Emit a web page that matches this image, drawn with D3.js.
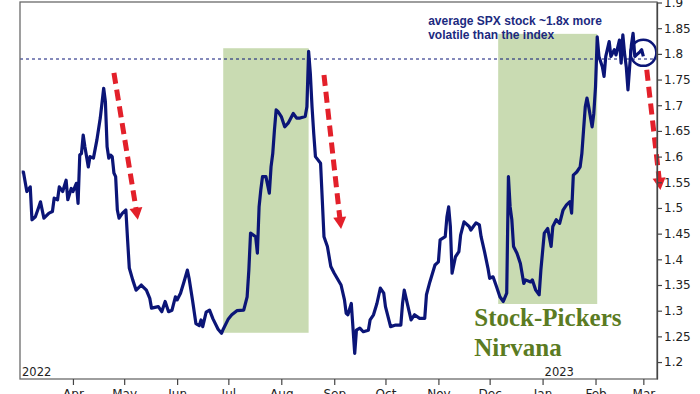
<!DOCTYPE html>
<html>
<head>
<meta charset="utf-8">
<script src="https://cdn.jsdelivr.net/npm/d3@7"></script>
<style>
  body { margin: 0; background: #fff; }
  svg { display: block; }
</style>
</head>
<body>
<div id="chart"></div>
<script>
// Data
const dates = [
  '2022-03-02','2022-03-03','2022-03-05','2022-03-07','2022-03-08','2022-03-10','2022-03-12','2022-03-13',
  '2022-03-15','2022-03-18','2022-03-20','2022-03-21','2022-03-23','2022-03-24','2022-03-26','2022-03-28',
  '2022-03-29','2022-03-31','2022-04-01','2022-04-03','2022-04-04','2022-04-05','2022-04-06','2022-04-07',
  '2022-04-08','2022-04-10','2022-04-11','2022-04-13','2022-04-15','2022-04-17','2022-04-19','2022-04-20',
  '2022-04-21','2022-04-22','2022-04-23','2022-04-24','2022-04-25','2022-04-26','2022-04-27','2022-04-28',
  '2022-04-30','2022-05-02','2022-05-03','2022-05-04','2022-05-06','2022-05-08','2022-05-11','2022-05-14',
  '2022-05-16','2022-05-17','2022-05-21','2022-05-23','2022-05-25','2022-05-27','2022-05-29','2022-05-31',
  '2022-06-01','2022-06-03','2022-06-05','2022-06-07','2022-06-08','2022-06-10','2022-06-12','2022-06-14',
  '2022-06-15','2022-06-16','2022-06-18','2022-06-20','2022-06-22','2022-06-25','2022-06-27','2022-06-28',
  '2022-07-01','2022-07-03','2022-07-06','2022-07-10','2022-07-12','2022-07-13','2022-07-14','2022-07-17',
  '2022-07-18','2022-07-19','2022-07-20','2022-07-21','2022-07-23','2022-07-25','2022-07-26','2022-07-27',
  '2022-07-28','2022-07-29','2022-07-30','2022-08-01','2022-08-03','2022-08-05','2022-08-08','2022-08-10',
  '2022-08-12','2022-08-15','2022-08-16','2022-08-17','2022-08-18','2022-08-19','2022-08-20','2022-08-21',
  '2022-08-24','2022-08-25','2022-08-26','2022-08-28','2022-08-30','2022-09-01','2022-09-05','2022-09-07',
  '2022-09-08','2022-09-09','2022-09-11','2022-09-13','2022-09-14','2022-09-16','2022-09-18','2022-09-21',
  '2022-09-22','2022-09-24','2022-09-26','2022-09-28','2022-09-30','2022-10-01','2022-10-04','2022-10-07',
  '2022-10-10','2022-10-11','2022-10-12','2022-10-14','2022-10-16','2022-10-18','2022-10-21','2022-10-24',
  '2022-10-25','2022-10-27','2022-10-30','2022-11-01','2022-11-02','2022-11-05','2022-11-06','2022-11-07',
  '2022-11-08','2022-11-09','2022-11-11','2022-11-13','2022-11-14','2022-11-16','2022-11-19','2022-11-20',
  '2022-11-23','2022-11-25','2022-11-26','2022-11-28','2022-11-30','2022-12-01','2022-12-03','2022-12-05',
  '2022-12-07','2022-12-09','2022-12-11','2022-12-12','2022-12-13','2022-12-14','2022-12-15','2022-12-17',
  '2022-12-19','2022-12-21','2022-12-22','2022-12-25','2022-12-26','2022-12-28','2022-12-30','2022-12-31',
  '2023-01-02','2023-01-04','2023-01-06','2023-01-07','2023-01-09','2023-01-11','2023-01-13','2023-01-15',
  '2023-01-17','2023-01-18','2023-01-19','2023-01-21','2023-01-23','2023-01-24','2023-01-25','2023-01-26',
  '2023-01-27','2023-01-28','2023-01-30','2023-01-31','2023-02-01','2023-02-02','2023-02-03','2023-02-05',
  '2023-02-06','2023-02-07','2023-02-09','2023-02-10','2023-02-12','2023-02-13','2023-02-15','2023-02-16',
  '2023-02-17','2023-02-18','2023-02-19','2023-02-20','2023-02-21','2023-02-22','2023-02-23','2023-02-24',
  '2023-02-25','2023-02-27','2023-02-28','2023-03-01'
]

const values = [
  1.570,1.570,1.532,1.541,1.477,1.483,1.502,1.512,
  1.480,1.490,1.493,1.519,1.516,1.541,1.532,1.554,
  1.516,1.538,1.532,1.548,1.509,1.603,1.606,1.642,
  1.619,1.580,1.600,1.597,1.632,1.675,1.733,1.707,
  1.619,1.597,1.603,1.600,1.568,1.561,1.496,1.480,
  1.490,1.496,1.438,1.383,1.360,1.340,1.350,1.340,
  1.324,1.305,1.308,1.298,1.318,1.298,1.301,1.327,
  1.321,1.334,1.356,1.379,1.363,1.321,1.275,1.271,
  1.282,1.269,1.297,1.301,1.284,1.264,1.256,1.264,
  1.284,1.292,1.300,1.301,1.327,1.379,1.451,1.444,
  1.412,1.502,1.535,1.561,1.561,1.529,1.580,1.606,
  1.652,1.691,1.688,1.678,1.658,1.665,1.684,1.675,
  1.675,1.678,1.697,1.805,1.762,1.697,1.645,1.600,
  1.587,1.516,1.444,1.425,1.386,1.373,1.350,1.321,
  1.295,1.292,1.314,1.217,1.262,1.266,1.259,1.262,
  1.282,1.292,1.314,1.344,1.334,1.308,1.269,1.272,
  1.272,1.314,1.340,1.311,1.282,1.292,1.285,1.285,
  1.331,1.356,1.389,1.395,1.438,1.444,1.483,1.502,
  1.464,1.373,1.405,1.415,1.447,1.473,1.464,1.457,
  1.471,1.467,1.444,1.415,1.383,1.363,1.366,1.347,
  1.327,1.318,1.334,1.561,1.502,1.477,1.425,1.412,
  1.392,1.353,1.360,1.356,1.360,1.340,1.331,1.379,
  1.451,1.460,1.425,1.464,1.477,1.470,1.496,1.506,
  1.512,1.490,1.564,1.570,1.580,1.606,1.652,1.697,
  1.714,1.697,1.658,1.684,1.736,1.833,1.795,1.775,
  1.756,1.795,1.824,1.795,1.808,1.798,1.827,1.782,
  1.837,1.801,1.775,1.730,1.775,1.817,1.840,1.795,
  1.798,1.804,1.808,1.795
]

const monthTicks = [
  '2022-04-01','2022-05-01','2022-06-01','2022-07-01','2022-08-01','2022-09-01',
  '2022-10-01','2022-11-01','2022-12-01','2023-01-01','2023-02-01','2023-03-01'
]
const yTicks = [1.2, 1.25, 1.3, 1.35, 1.4, 1.45, 1.5, 1.55, 1.6, 1.65, 1.7, 1.75, 1.8, 1.85, 1.9]
const yearLabels = ['2022', '2023']
const yearDates = ['2022-03-01', '2023-01-01']

// shaded "nirvana" periods
const shadeStart = ['2022-06-28', '2022-12-06']
const shadeEnd = ['2022-08-17', '2023-02-02']
const shadeLow = [1.257, 1.313]
const shadeHigh = [1.811, 1.839]

const refLevel = 1.79

// red dashed arrows: start and tip
const arrowStartDate = ['2022-04-25', '2022-08-26', '2023-03-03']
const arrowStartValue = [1.763, 1.759, 1.769]
const arrowEndDate = ['2022-05-09', '2022-09-05', '2023-03-11']
const arrowEndValue = [1.477, 1.459, 1.535]

const circleDate = '2023-03-01'
const circleValue = 1.802

const noteLines = ['average SPX stock ~1.8x more', 'volatile than the index']
const noteDate = '2022-10-26'
const bigLines = ['Stock-Pickers', 'Nirvana']
const bigDate = '2022-11-22'

// Dimensions
const dimensions = {
  width: 700,
  height: 394,
  margin: { top: 2, right: 43, bottom: 15, left: 20 }
}
dimensions.ctrWidth = dimensions.width - dimensions.margin.left - dimensions.margin.right
dimensions.ctrHeight = dimensions.height - dimensions.margin.top - dimensions.margin.bottom

const parse = d3.timeParse('%Y-%m-%d')
const dataset = dates.map((d, i) => ({ date: parse(d), value: values[i] }))

const navy = '#0b1577'

const svg = d3.select('#chart')
  .append('svg')
  .attr('width', dimensions.width)
  .attr('height', dimensions.height)

const ctr = svg.append('g')
  .attr('transform', `translate(${dimensions.margin.left}, ${dimensions.margin.top})`)

// Scales
const xScale = d3.scaleTime()
  .domain([parse('2022-03-01'), parse('2023-03-09')])
  .range([0, dimensions.ctrWidth])

const yScale = d3.scaleLinear()
  .domain([1.167, 1.901])
  .range([dimensions.ctrHeight, 0])

// Shaded periods
ctr.selectAll('rect.shade')
  .data(shadeStart)
  .join('rect')
  .attr('class', 'shade')
  .attr('x', d => xScale(parse(d)))
  .attr('width', (d, i) => xScale(parse(shadeEnd[i])) - xScale(parse(d)))
  .attr('y', (d, i) => yScale(shadeHigh[i]))
  .attr('height', (d, i) => yScale(shadeLow[i]) - yScale(shadeHigh[i]))
  .attr('fill', '#c9dbb2')

// Reference line
ctr.append('line')
  .attr('x1', 0)
  .attr('x2', dimensions.ctrWidth)
  .attr('y1', yScale(refLevel))
  .attr('y2', yScale(refLevel))
  .attr('stroke', navy)
  .attr('stroke-width', 1)
  .attr('stroke-dasharray', '3,3')

// Line
const line = d3.line()
  .x(d => xScale(d.date))
  .y(d => yScale(d.value))

ctr.append('path')
  .datum(dataset)
  .attr('d', line)
  .attr('fill', 'none')
  .attr('stroke', navy)
  .attr('stroke-width', 3.2)
  .attr('stroke-linejoin', 'round')

// Annotation
const note = ctr.append('text')
  .attr('fill', '#1c2a80')
  .style('font-family', '"Liberation Sans", Arial, sans-serif')
  .style('font-weight', 'bold')
  .style('font-size', '12px')
note.selectAll('tspan')
  .data(noteLines)
  .join('tspan')
  .attr('x', xScale(parse(noteDate)))
  .attr('y', (d, i) => 23 + i * 14.3)
  .text(d => d)

ctr.append('circle')
  .attr('cx', xScale(parse(circleDate)))
  .attr('cy', yScale(circleValue))
  .attr('r', 13)
  .attr('fill', 'none')
  .attr('stroke', navy)
  .attr('stroke-width', 2.5)

// Arrows
const red = '#e3202a'
arrowStartDate.forEach((d, i) => {
  const x1 = xScale(parse(d))
  const y1 = yScale(arrowStartValue[i])
  const x2 = xScale(parse(arrowEndDate[i]))
  const y2 = yScale(arrowEndValue[i])
  const len = Math.hypot(x2 - x1, y2 - y1)
  const ux = (x2 - x1) / len
  const uy = (y2 - y1) / len
  const headLen = 12
  const headW = 6.5
  const bx = x2 - ux * headLen
  const by = y2 - uy * headLen

  ctr.append('line')
    .attr('x1', x1).attr('y1', y1)
    .attr('x2', bx + ux * 1).attr('y2', by + uy * 1)
    .attr('stroke', red)
    .attr('stroke-width', 5)
    .attr('stroke-dasharray', '11,6')

  ctr.append('path')
    .attr('d', `M${x2},${y2}L${bx - uy * headW},${by + ux * headW}L${bx + uy * headW},${by - ux * headW}Z`)
    .attr('fill', red)
})

// Big label
const big = ctr.append('text')
  .attr('fill', '#5b7b22')
  .style('font-family', '"Liberation Serif", "Times New Roman", serif')
  .style('font-weight', 'bold')
  .style('font-size', '25px')
big.selectAll('tspan')
  .data(bigLines)
  .join('tspan')
  .attr('x', xScale(parse(bigDate)))
  .attr('y', (d, i) => 324 + i * 30)
  .text(d => d)

// Year labels
ctr.selectAll('text.year')
  .data(yearLabels)
  .join('text')
  .attr('class', 'year')
  .attr('x', (d, i) => xScale(parse(yearDates[i])) + 2)
  .attr('y', dimensions.ctrHeight - 3)
  .attr('fill', '#222')
  .style('font-family', '"DejaVu Sans", Verdana, sans-serif')
  .style('font-size', '11.5px')
  .text(d => d)

// Frame
ctr.append('rect')
  .attr('x', 0)
  .attr('y', 0)
  .attr('width', dimensions.ctrWidth)
  .attr('height', dimensions.ctrHeight)
  .attr('fill', 'none')
  .attr('stroke', '#6a6a6a')
  .attr('stroke-width', 1.3)

// Axes
const xAxis = d3.axisBottom(xScale)
  .tickValues(monthTicks.map(parse))
  .tickFormat(d3.timeFormat('%b'))
  .tickSize(6)
  .tickPadding(4)
  .tickSizeOuter(0)

const xAxisGroup = ctr.append('g')
  .call(xAxis)
  .attr('transform', `translate(0, ${dimensions.ctrHeight})`)
xAxisGroup.select('.domain').remove()
xAxisGroup.selectAll('line').attr('stroke', '#444').attr('stroke-width', 1.2)
xAxisGroup.selectAll('text')
  .attr('fill', '#222')
  .style('font-family', '"DejaVu Sans", Verdana, sans-serif')
  .style('font-size', '12px')

const yAxis = d3.axisRight(yScale)
  .tickValues(yTicks)
  .tickFormat(d => String(d))
  .tickSize(5)
  .tickPadding(2)
  .tickSizeOuter(0)

const yAxisGroup = ctr.append('g')
  .call(yAxis)
  .attr('transform', `translate(${dimensions.ctrWidth}, 0)`)
yAxisGroup.select('.domain').attr('stroke', '#444').attr('stroke-width', 1.3)
yAxisGroup.selectAll('line').attr('stroke', '#444').attr('stroke-width', 1.2)
yAxisGroup.selectAll('text')
  .attr('fill', '#222')
  .style('font-family', '"DejaVu Sans", Verdana, sans-serif')
  .style('font-size', '12px')
</script>
</body>
</html>
